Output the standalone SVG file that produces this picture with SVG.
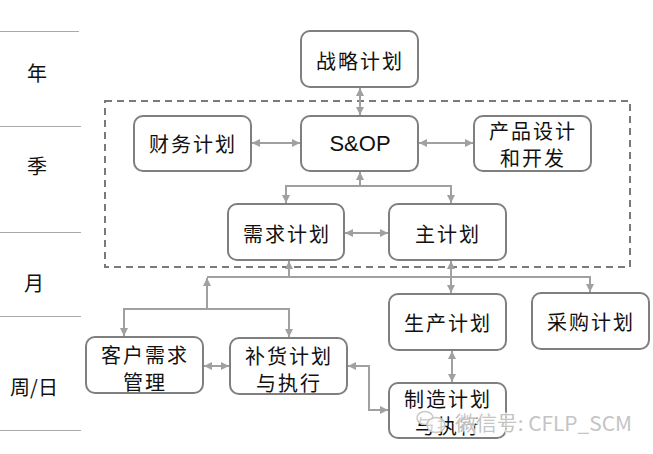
<svg xmlns="http://www.w3.org/2000/svg" width="653" height="454" viewBox="0 0 653 454">
<defs>
<style>
.node rect{fill:#fff;stroke:#7f7f7f;stroke-width:2}
.t{font-family:"Noto Sans CJK SC","Noto Sans",sans-serif;font-size:20px;fill:#111;text-anchor:middle;dominant-baseline:central;letter-spacing:2px}
.en{font-family:"Liberation Sans",Arial,sans-serif;font-size:22px;fill:#111;text-anchor:middle;dominant-baseline:central}
.lab{font-family:"Noto Sans CJK SC",sans-serif;font-size:20px;fill:#111;text-anchor:middle;dominant-baseline:central}
.c path{fill:none;stroke:#a0a0a0;stroke-width:2}
.sep line{stroke:#aaa;stroke-width:1}
</style>
<marker id="a" viewBox="0 0 8 8" markerWidth="8" markerHeight="8" refX="8" refY="4" orient="auto-start-reverse" markerUnits="userSpaceOnUse">
<path d="M0,0 L8,4 L0,8 z" fill="#a0a0a0"/>
</marker>
</defs>
<rect width="653" height="454" fill="#fff"/>
<g class="sep">
<line x1="0" y1="31.5" x2="79" y2="31.5"/>
<line x1="0" y1="126.5" x2="81" y2="126.5"/>
<line x1="0" y1="232.5" x2="81" y2="232.5"/>
<line x1="0" y1="316.5" x2="81" y2="316.5"/>
<line x1="0" y1="430.5" x2="81" y2="430.5"/>
</g>
<g id="labels">
<text class="lab" x="37" y="72">年</text>
<text class="lab" x="37" y="165">季</text>
<text class="lab" x="34" y="282">月</text>
<text class="lab" x="34" y="386">周/日</text>
</g>
<rect id="sop-zone" x="105" y="101" width="525" height="166" fill="none" stroke="#7a7a7a" stroke-width="2" stroke-dasharray="7,5"/>
<g class="c" id="connectors">
<path d="M360,88 V115" marker-start="url(#a)" marker-end="url(#a)"/>
<path d="M252,143 H300" marker-start="url(#a)" marker-end="url(#a)"/>
<path d="M419,143 H473" marker-start="url(#a)" marker-end="url(#a)"/>
<path d="M360,186 V172" marker-end="url(#a)"/>
<path d="M286,203 V186 H451 V203" marker-start="url(#a)" marker-end="url(#a)"/>
<path d="M345,233 H388" marker-start="url(#a)" marker-end="url(#a)"/>
<path d="M289,277 V261" marker-end="url(#a)"/>
<path d="M207,277 H590 V292" marker-end="url(#a)"/>
<path d="M451,261 V293" marker-start="url(#a)" marker-end="url(#a)"/>
<path d="M124,336 V309 H289 V337" marker-start="url(#a)" marker-end="url(#a)"/>
<path d="M207,309 V278" marker-end="url(#a)"/>
<path d="M204,366 H229" marker-start="url(#a)" marker-end="url(#a)"/>
<path d="M452,351 V382" marker-start="url(#a)" marker-end="url(#a)"/>
<path d="M348,366 H369 V410 H388" marker-start="url(#a)" marker-end="url(#a)"/>
</g>
<g id="n-strategy" class="node"><rect x="301" y="31" width="117" height="56" rx="9"/><text class="t" x="360" y="60">战略计划</text></g>
<g id="n-finance" class="node"><rect x="134" y="116" width="117" height="55" rx="9"/><text class="t" x="193" y="143">财务计划</text></g>
<g id="n-sop" class="node"><rect x="301" y="116" width="117" height="55" rx="9"/><text class="en" x="360" y="143">S&amp;OP</text></g>
<g id="n-product" class="node"><rect x="474" y="116" width="117" height="55" rx="9"/><text class="t" x="533" y="130">产品设计</text><text class="t" x="533" y="157">和开发</text></g>
<g id="n-demand" class="node"><rect x="228" y="204" width="116" height="56" rx="9"/><text class="t" x="287" y="233">需求计划</text></g>
<g id="n-master" class="node"><rect x="389" y="204" width="117" height="56" rx="9"/><text class="t" x="448" y="233">主计划</text></g>
<g id="n-production" class="node"><rect x="389" y="294" width="117" height="56" rx="9"/><text class="t" x="448" y="322">生产计划</text></g>
<g id="n-purchase" class="node"><rect x="532" y="293" width="117" height="56" rx="9"/><text class="t" x="591" y="321">采购计划</text></g>
<g id="n-customer" class="node"><rect x="86" y="337" width="117" height="56" rx="9"/><text class="t" x="145" y="354">客户需求</text><text class="t" x="145" y="381">管理</text></g>
<g id="n-replenish" class="node"><rect x="230" y="338" width="117" height="56" rx="9"/><text class="t" x="289" y="355">补货计划</text><text class="t" x="289" y="382">与执行</text></g>
<g id="n-manufacture" class="node"><rect x="389" y="383" width="117" height="55" rx="9"/><text class="t" x="448" y="398">制造计划</text><text class="t" x="448" y="425">与执行</text></g>
<g id="watermark">
<ellipse cx="425" cy="418" rx="8" ry="6.5" fill="#fff" fill-opacity="0.8" stroke="#c8c8c8" stroke-width="1.5"/>
<ellipse cx="436" cy="425" rx="9" ry="7.5" fill="#fff" fill-opacity="0.8" stroke="#c8c8c8" stroke-width="1.5"/>
<text x="455" y="422" font-family="'Noto Sans CJK SC',sans-serif" font-size="20" fill="#c4c4c4" stroke="#fff" stroke-width="3" stroke-opacity="0.7" paint-order="stroke" dominant-baseline="central" textLength="177" lengthAdjust="spacingAndGlyphs">微信号: CFLP_SCM</text>
</g>
</svg>
